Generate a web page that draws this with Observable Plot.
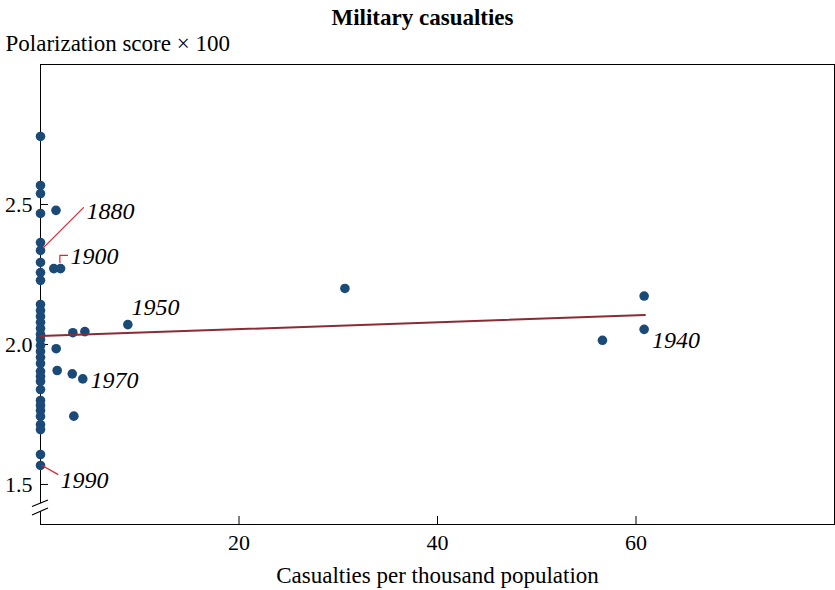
<!DOCTYPE html>
<html><head><meta charset="utf-8">
<script src="https://cdn.jsdelivr.net/npm/d3@7"></script>
<script src="https://cdn.jsdelivr.net/npm/@observablehq/plot@0.6"></script>
<style>body{margin:0;background:#fff} svg{display:block}</style>
</head><body><div id="chart"></div>
<script>
// Data
const casualties = [
  0,0,0,0,0,0,0,0,0,0,0,0,0,0,0,0,0,0,0,0,0,0,0,0,0,0,0,0,0,0,0,0,
  1.56,1.34,2.02,30.67,60.82,8.8,3.26,4.47,1.58,56.62,60.82,1.68,3.2,4.26,3.36
];
const polarization = [
  2.743,2.568,2.539,2.468,2.364,2.336,2.293,2.257,2.229,2.143,2.121,2.100,2.079,2.057,2.036,2.018,
  1.996,1.975,1.954,1.932,1.904,1.886,1.868,1.839,1.800,1.782,1.764,1.743,1.714,1.696,1.607,1.568,
  2.479,2.271,2.271,2.200,2.173,2.071,2.042,2.046,1.985,2.015,2.054,1.907,1.895,1.877,1.744
];
const fitX = [0, 60.9];
const fitY = [2.030, 2.105];
const labelYears = ["1880","1900","1950","1970","1940","1990"];
const labelX = [4.64, 3.02, 9.17, 5.04, 61.6, 2.02];
const labelY = [2.475, 2.314, 2.132, 1.871, 2.014, 1.514];
const leaderId = ["1880","1880","1900","1900","1900","1990","1990"];
const leaderX  = [0.3, 4.33, 1.95, 1.95, 2.72, 0.17, 1.74];
const leaderY  = [2.346, 2.489, 2.293, 2.318, 2.318, 1.568, 1.536];
const xTicks = [20, 40, 60];
const yTicks = [1.5, 2.0, 2.5];
const titleText = "Military casualties";
const yLabel = "Polarization score \u00d7 100";
const xLabel = "Casualties per thousand population";
const breakValue = 1.416;

const points = casualties.map((x, i) => ({x, y: polarization[i]}));
const fit = fitX.map((x, i) => ({x, y: fitY[i]}));
const labels = labelYears.map((t, i) => ({t, x: labelX[i], y: labelY[i]}));
const leaders = leaderId.map((id, i) => ({id, x: leaderX[i], y: leaderY[i]}));

const plot = Plot.plot({
  width: 835, height: 590,
  marginTop: 64, marginBottom: 66, marginLeft: 40, marginRight: 1,
  style: {fontFamily: "'Liberation Serif', 'Times New Roman', serif", fontSize: "22px", color: "#000", background: "#fff"},
  x: {domain: [0, 80]},
  y: {domain: [1.357, 3.0]},
  marks: [
    Plot.frame({stroke: "#000", strokeWidth: 1}),
    Plot.axisX({ticks: xTicks, tickSize: -8, tickPadding: 18, label: null, tickFormat: d => String(d)}),
    Plot.axisY({ticks: yTicks, tickSize: -8, tickPadding: 16, label: null, tickFormat: d3.format(".1f")}),
    Plot.dot(points, {x: "x", y: "y", r: 4.8, fill: "#1b4a77", stroke: "none"}),
    Plot.line(fit, {x: "x", y: "y", stroke: "#8c2a35", strokeWidth: 2}),
    Plot.line(leaders, {x: "x", y: "y", z: "id", stroke: "#e8202a", strokeWidth: 1.2, curve: "linear"}),
    Plot.text(labels, {x: "x", y: "y", text: "t", textAnchor: "start", fontStyle: "italic", fontSize: 24}),
    Plot.text([titleText], {frameAnchor: "top", lineAnchor: "middle", dy: -47, dx: -15, fontWeight: "bold", fontSize: 23}),
    Plot.text([yLabel], {frameAnchor: "top-left", lineAnchor: "middle", textAnchor: "start", dx: -35, dy: -21, fontSize: 23}),
    Plot.text([xLabel], {frameAnchor: "bottom", lineAnchor: "middle", dy: 51, fontSize: 23})
  ]
});

// axis break symbol, positioned through the scales
const ys = plot.scale("y"), xs = plot.scale("x");
const c = ys.apply(breakValue), x0 = xs.apply(0);
const svg = d3.select(plot);
const g = svg.append("g");
g.append("path").attr("d", `M${x0-8},${c-1}L${x0+8},${c-7.5}L${x0+8},${c+0.5}L${x0-8},${c+7.5}Z`).attr("fill", "#fff");
g.append("path").attr("d", `M${x0-8},${c-1}L${x0+8},${c-7.5}M${x0-8},${c+7.5}L${x0+8},${c+0.5}`).attr("stroke", "#000").attr("stroke-width", 1.2).attr("fill", "none");

document.getElementById("chart").append(plot);
</script>
</body></html>
